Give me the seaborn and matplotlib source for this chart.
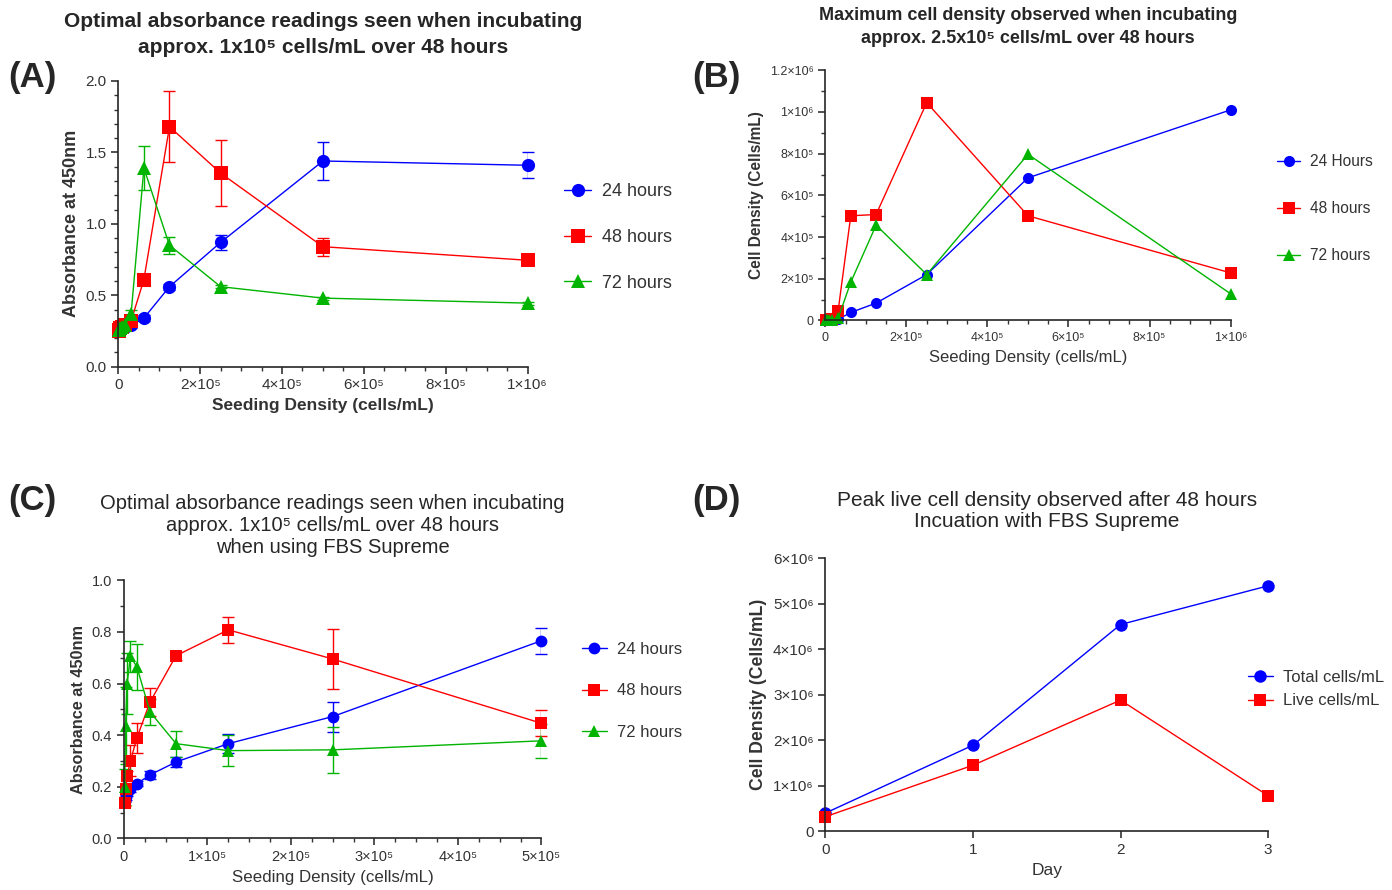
import numpy as np
import pandas as pd
import matplotlib
matplotlib.use('Agg')
import matplotlib.pyplot as plt
import seaborn as sns
from matplotlib.ticker import MultipleLocator

# seeding densities (cells/mL), two-fold dilution series
seed_a = [1e6, 5e5, 2.5e5, 1.25e5, 62500, 31250, 15625, 7812.5, 3906.25, 1953.125, 976.5625]
seed_c = [5e5, 2.5e5, 1.25e5, 62500, 31250, 15625, 7812.5, 3906.25, 1953.125, 976.5625]

# panel A: absorbance at 450nm (mean, sd)
a_24 = [1.41, 1.44, 0.87, 0.56, 0.34, 0.29, 0.28, 0.27, 0.26, 0.26, 0.255]
a_24_sd = [0.09, 0.135, 0.055, 0.02, 0.02, 0.02, 0.01, 0.01, 0.01, 0.01, 0.01]
a_48 = [0.745, 0.84, 1.355, 1.68, 0.61, 0.32, 0.29, 0.28, 0.27, 0.26, 0.25]
a_48_sd = [0.02, 0.062, 0.23, 0.25, 0.03, 0.02, 0.02, 0.01, 0.01, 0.01, 0.01]
a_72 = [0.445, 0.48, 0.56, 0.85, 1.39, 0.37, 0.29, 0.28, 0.27, 0.26, 0.255]
a_72_sd = [0.01, 0.01, 0.01, 0.06, 0.155, 0.03, 0.02, 0.01, 0.01, 0.01, 0.01]

# panel B: cell density (cells/mL)
b_24 = [1.01e6, 6.84e5, 2.2e5, 8.3e4, 3.8e4, 5e3, 3e3, 2e3, 1e3, 1e3, 1e3]
b_48 = [2.28e5, 5.02e5, 1.045e6, 5.08e5, 5.02e5, 4.6e4, 5e3, 3e3, 2e3, 1e3, 1e3]
b_72 = [1.28e5, 7.97e5, 2.2e5, 4.57e5, 1.83e5, 1e4, 4e3, 3e3, 2e3, 1e3, 1e3]

# panel C: absorbance at 450nm with FBS Supreme (mean, sd)
c_24 = [0.766, 0.472, 0.367, 0.296, 0.246, 0.212, 0.19, 0.175, 0.16, 0.15]
c_24_sd = [0.05, 0.058, 0.037, 0.02, 0.015, 0.01, 0.01, 0.01, 0.01, 0.01]
c_48 = [0.446, 0.695, 0.808, 0.708, 0.528, 0.39, 0.30, 0.242, 0.19, 0.136]
c_48_sd = [0.05, 0.118, 0.05, 0.015, 0.054, 0.058, 0.06, 0.02, 0.02, 0.01]
c_72 = [0.378, 0.343, 0.34, 0.367, 0.49, 0.664, 0.705, 0.60, 0.437, 0.2]
c_72_sd = [0.065, 0.09, 0.06, 0.05, 0.05, 0.09, 0.06, 0.12, 0.15, 0.07]

# panel D: cell density over days
days = [0, 1, 2, 3]
d_total = [4.0e5, 1.89e6, 4.54e6, 5.39e6]
d_live = [3.2e5, 1.45e6, 2.88e6, 7.8e5]

series_names = ['24 hours', '48 hours', '72 hours']
colors = ['#0000FF', '#FF0000', '#00B400']
markers = ['o', 's', '^']

sns.set_style('ticks')
plt.rcParams['font.family'] = ['Liberation Sans', 'DejaVu Sans']
plt.rcParams['axes.linewidth'] = 1.2
plt.rcParams['xtick.major.width'] = 1.2
plt.rcParams['ytick.major.width'] = 1.2
plt.rcParams['xtick.minor.width'] = 1.0
plt.rcParams['ytick.minor.width'] = 1.0
plt.rcParams['xtick.major.size'] = 5
plt.rcParams['ytick.major.size'] = 5
plt.rcParams['xtick.minor.size'] = 3
plt.rcParams['ytick.minor.size'] = 3
plt.rcParams['xtick.color'] = '#333333'
plt.rcParams['ytick.color'] = '#333333'
plt.rcParams['xtick.labelcolor'] = '#333333'
plt.rcParams['ytick.labelcolor'] = '#333333'

GREY = '#333333'


def sci(v, p):
    return '%g×10%s' % (v, '⁵' if p == 5 else '⁶')


def long_df(x, ys, names):
    rows = []
    for y, n in zip(ys, names):
        for xi, yi in zip(x, y):
            rows.append({'x': xi, 'y': yi, 'series': n})
    return pd.DataFrame(rows)


def draw(ax, x, ys, sds, names, ms):
    df = long_df(x, ys, names)
    sns.lineplot(data=df, x='x', y='y', hue='series', style='series', ax=ax,
                 palette=dict(zip(names, colors)), markers=dict(zip(names, markers)),
                 dashes=False, markersize=ms, markeredgewidth=0, linewidth=1.0,
                 estimator=None, sort=False)
    if sds is not None:
        for y, sd, c in zip(ys, sds, colors):
            ax.errorbar(x, y, yerr=sd, fmt='none', ecolor=c, elinewidth=1.0,
                        capsize=4.5, capthick=1.0, zorder=1)
    ax.set_xlabel('')
    ax.set_ylabel('')
    sns.despine(ax=ax)


def legend_right(ax, x0, y0, fs, spacing):
    h, l = ax.get_legend_handles_labels()
    ax.legend(h, l, loc='upper left', bbox_to_anchor=(x0, y0), frameon=False,
              fontsize=fs, labelspacing=spacing, handlelength=1.5, handletextpad=0.6,
              labelcolor=GREY)


fig = plt.figure(figsize=(13.92, 8.9), dpi=100)

# ---- (A)
axA = fig.add_axes([0.085, 0.588, 0.294, 0.321])
draw(axA, seed_a, [a_24, a_48, a_72], [a_24_sd, a_48_sd, a_72_sd], series_names, 9.5)
axA.set_xlim(0, 1e6)
axA.set_ylim(0, 2.0)
axA.set_xticks([0, 2e5, 4e5, 6e5, 8e5, 1e6])
axA.set_xticklabels(['0', sci(2, 5), sci(4, 5), sci(6, 5), sci(8, 5), sci(1, 6)], fontsize=11)
axA.xaxis.set_minor_locator(MultipleLocator(5e4))
axA.set_yticks([0, 0.5, 1.0, 1.5, 2.0])
axA.set_yticklabels(['0.0', '0.5', '1.0', '1.5', '2.0'], fontsize=11)
axA.yaxis.set_minor_locator(MultipleLocator(0.1))
axA.set_ylabel('Absorbance at 450nm', fontsize=13, fontweight='bold', color=GREY)
axA.set_xlabel('Seeding Density (cells/mL)', fontsize=12.5, fontweight='bold', color=GREY)
axA.set_title('Optimal absorbance readings seen when incubating\napprox. 1x10⁵ cells/mL over 48 hours',
              fontsize=15, fontweight='bold', pad=20, linespacing=1.45)
legend_right(axA, 1.05, 0.70, 13, 1.6)
fig.text(0.006, 0.913, '(A)', fontsize=25, fontweight='bold', va='center')

# ---- (B)
axB = fig.add_axes([0.593, 0.640, 0.291, 0.281])
draw(axB, seed_a, [b_24, b_48, b_72], None, ['24 Hours', '48 hours', '72 hours'], 8)
axB.set_xlim(0, 1e6)
axB.set_ylim(0, 1.2e6)
axB.set_xticks([0, 2e5, 4e5, 6e5, 8e5, 1e6])
axB.set_xticklabels(['0', sci(2, 5), sci(4, 5), sci(6, 5), sci(8, 5), sci(1, 6)], fontsize=9)
axB.xaxis.set_minor_locator(MultipleLocator(5e4))
axB.set_yticks([0, 2e5, 4e5, 6e5, 8e5, 1e6, 1.2e6])
axB.set_yticklabels(['0', sci(2, 5), sci(4, 5), sci(6, 5), sci(8, 5), sci(1, 6), sci(1.2, 6)], fontsize=9)
axB.yaxis.set_minor_locator(MultipleLocator(1e5))
axB.set_ylabel('Cell Density (Cells/mL)', fontsize=11.2, fontweight='bold', color=GREY)
axB.set_xlabel('Seeding Density (cells/mL)', fontsize=12, color=GREY)
axB.set_title('Maximum cell density observed when incubating\napprox. 2.5x10⁵ cells/mL over 48 hours',
              fontsize=13, fontweight='bold', pad=20, linespacing=1.4)
legend_right(axB, 1.08, 0.72, 11.2, 2.05)
fig.text(0.497, 0.913, '(B)', fontsize=25, fontweight='bold', va='center')

# ---- (C)
axC = fig.add_axes([0.089, 0.058, 0.300, 0.290])
draw(axC, seed_c, [c_24, c_48, c_72], [c_24_sd, c_48_sd, c_72_sd], series_names, 8.5)
axC.set_xlim(0, 5e5)
axC.set_ylim(0, 1.0)
axC.set_xticks([0, 1e5, 2e5, 3e5, 4e5, 5e5])
axC.set_xticklabels(['0', sci(1, 5), sci(2, 5), sci(3, 5), sci(4, 5), sci(5, 5)], fontsize=10.5)
axC.xaxis.set_minor_locator(MultipleLocator(2.5e4))
axC.set_yticks([0, 0.2, 0.4, 0.6, 0.8, 1.0])
axC.set_yticklabels(['0.0', '0.2', '0.4', '0.6', '0.8', '1.0'], fontsize=10.5)
axC.yaxis.set_minor_locator(MultipleLocator(0.1))
axC.set_ylabel('Absorbance at 450nm', fontsize=11.7, fontweight='bold', color=GREY)
axC.set_xlabel('Seeding Density (cells/mL)', fontsize=12.2, color=GREY)
axC.set_title('Optimal absorbance readings seen when incubating\napprox. 1x10⁵ cells/mL over 48 hours\nwhen using FBS Supreme',
              fontsize=14.5, pad=20, linespacing=1.2)
legend_right(axC, 1.06, 0.82, 12, 1.6)
fig.text(0.006, 0.438, '(C)', fontsize=25, fontweight='bold', va='center')

# ---- (D)
axD = fig.add_axes([0.593, 0.066, 0.318, 0.307])
dfD = pd.DataFrame({'Day': days * 2, 'density': d_total + d_live,
                    'series': ['Total cells/mL'] * 4 + ['Live cells/mL'] * 4})
sns.lineplot(data=dfD, x='Day', y='density', hue='series', style='series', ax=axD,
             palette={'Total cells/mL': colors[0], 'Live cells/mL': colors[1]},
             markers={'Total cells/mL': 'o', 'Live cells/mL': 's'},
             dashes=False, markersize=9, markeredgewidth=0, linewidth=1.0)
sns.despine(ax=axD)
axD.set_xlim(0, 3)
axD.set_ylim(0, 6e6)
axD.set_xticks(days)
axD.set_xticklabels([str(d) for d in days], fontsize=11)
axD.set_yticks([0, 1e6, 2e6, 3e6, 4e6, 5e6, 6e6])
axD.set_yticklabels(['0'] + [sci(i, 6) for i in range(1, 7)], fontsize=11)
axD.set_ylabel('Cell Density (Cells/mL)', fontsize=12.7, fontweight='bold', color=GREY)
axD.set_xlabel('Day', fontsize=12.5, color=GREY)
axD.set_title('Peak live cell density observed after 48 hours\nIncuation with FBS Supreme',
              fontsize=15, pad=22, linespacing=1.15)
h, l = axD.get_legend_handles_labels()
axD.legend(h, l, loc='upper left', bbox_to_anchor=(0.92, 0.645), frameon=False,
           fontsize=12, labelspacing=0.5, handlelength=1.5, handletextpad=0.6, labelcolor=GREY)
fig.text(0.497, 0.438, '(D)', fontsize=25, fontweight='bold', va='center')

for ax in [axA, axB, axC, axD]:
    for line in ax.lines:
        line.set_clip_on(False)

fig.savefig('out.png', dpi=100)
